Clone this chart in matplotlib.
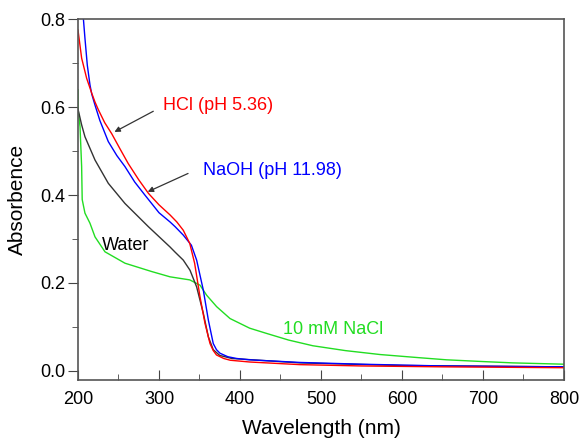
import matplotlib
matplotlib.use("Agg")
import matplotlib.pyplot as plt
from matplotlib.ticker import MultipleLocator

plt.rcParams['font.family'] = ['Liberation Sans', 'DejaVu Sans']

# HCl (pH 5.36)
wl_hcl = [200, 204.5, 210.7, 217, 221, 225, 233, 241.6, 252, 262, 275, 287, 300, 313.6, 322, 330,
          338, 344, 350.6, 356.8, 363, 367, 371, 380, 388, 412, 474, 550, 650, 800]
ab_hcl = [0.776, 0.712, 0.666, 0.632, 0.612, 0.595, 0.565, 0.54, 0.505, 0.472, 0.435, 0.404, 0.378,
          0.355, 0.339, 0.32, 0.29, 0.245, 0.169, 0.108, 0.062, 0.046, 0.036, 0.028, 0.024, 0.02,
          0.014, 0.011, 0.009, 0.007]

# NaOH (pH 11.98)
wl_naoh = [200, 204, 206.6, 208.6, 211.5, 214.8, 217, 221, 227, 237.4, 248, 258, 270, 282.7, 300,
           313.6, 320, 330, 340, 346.5, 354.7, 361, 367, 371, 375.3, 385, 396, 412, 474, 550, 650, 800]
ab_naoh = [0.95, 0.86, 0.803, 0.757, 0.696, 0.651, 0.63, 0.605, 0.57, 0.522, 0.49, 0.465, 0.43, 0.40,
           0.36, 0.339, 0.328, 0.309, 0.286, 0.252, 0.184, 0.115, 0.062, 0.048, 0.040, 0.032, 0.028,
           0.025, 0.019, 0.015, 0.011, 0.009]

# Water
wl_water = [200, 204.5, 208.6, 221, 237.4, 258, 287, 313.6, 320, 330, 338.3, 346.5, 354.7, 361, 367,
            375, 390, 474, 600, 800]
ab_water = [0.596, 0.56, 0.533, 0.48, 0.427, 0.381, 0.328, 0.282, 0.27, 0.252, 0.229, 0.191, 0.131,
            0.077, 0.048, 0.035, 0.028, 0.018, 0.012, 0.009]

# 10 mM NaCl
wl_nacl = [200, 200.2, 202.5, 204.5, 205.2, 208.6, 214.8, 221, 233.3, 258, 291, 313.6, 338, 350.6,
           358.9, 371.2, 387.7, 412, 433, 460, 490, 530, 573, 620, 655, 700, 737, 800]
ab_nacl = [0.64, 0.594, 0.556, 0.465, 0.39, 0.359, 0.336, 0.305, 0.271, 0.245, 0.226, 0.214, 0.207,
           0.195, 0.172, 0.146, 0.119, 0.097, 0.085, 0.07, 0.057, 0.046, 0.037, 0.03, 0.025, 0.021,
           0.018, 0.015]

fig = plt.figure(figsize=(5.79, 4.38), dpi=100)
ax = fig.add_axes([0.1347, 0.1324, 0.974 - 0.1347, 0.9555 - 0.1324])

ax.plot(wl_nacl, ab_nacl, color="#22dd22", lw=1.0)
ax.plot(wl_water, ab_water, color="#333333", lw=1.0)
ax.plot(wl_naoh, ab_naoh, color="#0000ff", lw=1.0)
ax.plot(wl_hcl, ab_hcl, color="#ff0000", lw=1.0)

ax.set_xlim(200, 800)
ax.set_ylim(-0.021, 0.8)
ax.xaxis.set_major_locator(MultipleLocator(100))
ax.xaxis.set_minor_locator(MultipleLocator(50))
ax.yaxis.set_major_locator(MultipleLocator(0.2))
ax.yaxis.set_minor_locator(MultipleLocator(0.1))
ax.yaxis.set_major_formatter(plt.FormatStrFormatter('%.1f'))
ax.tick_params(axis="x", which="both", direction="in", labelsize=13, pad=8, color="#444444")
ax.tick_params(axis="y", which="both", direction="out", labelsize=13, pad=2, color="#444444")
ax.tick_params(which="major", length=7)
ax.tick_params(which="minor", length=4)
for s in ax.spines.values():
    s.set_color("#555555")
    s.set_linewidth(1.2)

ax.set_xlabel("Wavelength (nm)", fontsize=15, labelpad=8)
ax.set_ylabel("Absorbence", fontsize=15, labelpad=10)

ax.text(305, 0.603, "HCl (pH 5.36)", color="#ff0000", fontsize=13, va="center")
ax.text(354, 0.457, "NaOH (pH 11.98)", color="#0000ff", fontsize=13, va="center")
ax.text(230, 0.286, "Water", color="black", fontsize=13, va="center")
ax.text(453, 0.093, "10 mM NaCl", color="#22dd22", fontsize=13, va="center")

arrow = dict(arrowstyle="-|>", color="#333333", lw=0.9, mutation_scale=8)
ax.annotate("", xy=(242, 0.541), xytext=(296, 0.594), arrowprops=arrow)
ax.annotate("", xy=(283, 0.405), xytext=(339, 0.452), arrowprops=arrow)

fig.savefig("out.png", dpi=100)
